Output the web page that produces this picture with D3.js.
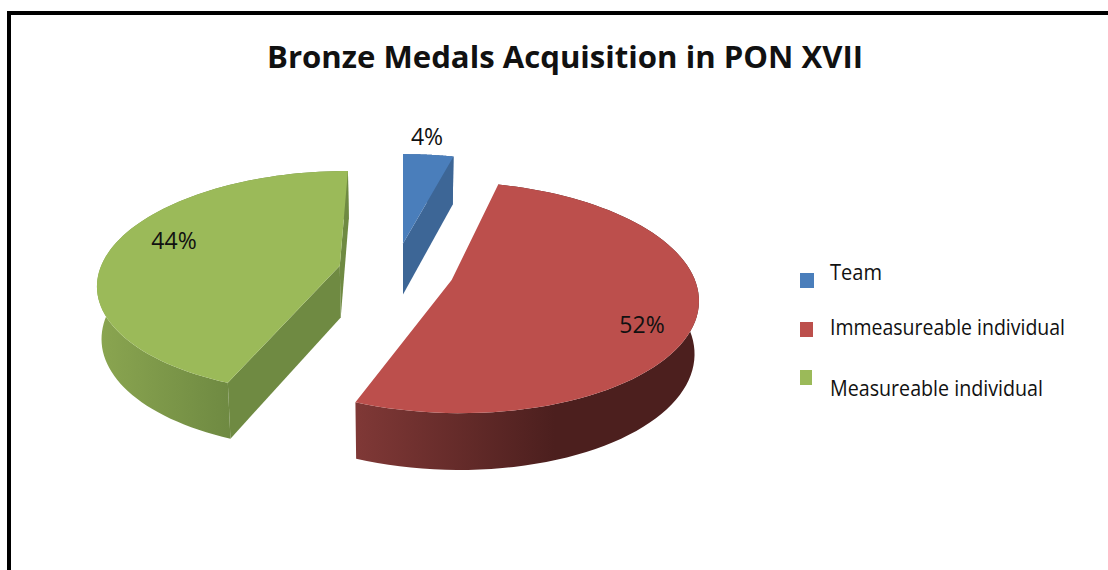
<!DOCTYPE html>
<html>
<head>
<meta charset="utf-8">
<script src="https://cdn.jsdelivr.net/npm/d3@7"></script>
<style>
  html, body { margin: 0; background: #fff; }
  text { font-family: "Open Sans", sans-serif; fill: #111; }
</style>
</head>
<body>
<svg id="chart" width="1108" height="570"></svg>
<script>
// values
const categories = ['Team', 'Immeasureable individual', 'Measureable individual'];
const shares = [4, 52, 44];
const colors = ['#4a7ebb', '#bc4f4c', '#9bba59'];
const sideColors = ['#3d6696', '#7f3836', '#8aa550'];
const sideColorsDark = ['#3d6696', '#4c1f1e', '#6f8a42'];
const title = 'Bronze Medals Acquisition in PON XVII';

// how far each slice is pulled out of the pie, in units of the radius
const explodeU = [0, 0.2, -0.265];
const explodeV = [0.25, -0.09, 0.04];
// label anchors, pixels
const labelX = [427, 642, 174];
const labelY = [139, 327, 243];
// legend rows, pixels
const legendSwatchY = [273, 322, 370];
const legendSwatchW = [14, 13, 12];
const legendTextY = [274, 329, 390];

const svg = d3.select('#chart');

// frame
svg.append('path')
    .attr('d', 'M9,570V13H1108')
    .attr('fill', 'none')
    .attr('stroke', '#000')
    .attr('stroke-width', 4);

svg.append('text')
    .attr('x', 565).attr('y', 60)
    .attr('text-anchor', 'middle')
    .attr('dominant-baseline', 'middle')
    .attr('font-size', 31)
    .attr('font-weight', 700)
    .attr('textLength', 596)
    .attr('lengthAdjust', 'spacingAndGlyphs')
    .text(title);

// fake 3d: the pie lies on a plane seen in perspective
const cx = 403, cy = 270, rx = 240, ry = 110, persp = 0.149, depth = 52;

function project(u, v, bottom) {
    const w = 1 + persp * v;
    const s = bottom ? 0.985 : 1;
    return [
        cx + rx * u / w * s,
        cy - ry * v / w + (bottom ? depth / Math.sqrt(w) : 0)
    ];
}

const arcs = d3.pie().sort(null)(shares);
const line = d3.line();

const defs = svg.append('defs');

arcs.forEach((a, i) => {
    const ou = explodeU[i], ov = explodeV[i];
    const rim = (t, bottom) => project(ou + Math.sin(t), ov + Math.cos(t), bottom);
    const apex = bottom => project(ou, ov, bottom);
    const angles = d3.range(0, 81).map(k => a.startAngle + (a.endAngle - a.startAngle) * k / 80);
    const topRim = angles.map(t => rim(t, false));
    const lowRim = angles.map(t => rim(t, true));

    // outer wall, with vertical shading bands
    const grad = defs.append('linearGradient')
        .attr('id', 'wall' + i)
        .attr('gradientUnits', 'userSpaceOnUse')
        .attr('x1', i === 1 ? 358 : 100).attr('x2', i === 1 ? 555 : 228)
        .attr('y1', 0).attr('y2', 0);
    grad.append('stop').attr('offset', 0).attr('stop-color', sideColors[i]);
    grad.append('stop').attr('offset', 1).attr('stop-color', sideColorsDark[i]);

    const g = svg.append('g');
    g.append('path')
        .attr('d', line(topRim.concat(lowRim.slice().reverse())) + 'Z')
        .attr('fill', 'url(#wall' + i + ')');

    // the two cut faces, only when they turn towards the viewer
    const faces = [
        [apex(false), rim(a.startAngle, false), rim(a.startAngle, true), apex(true)],
        [rim(a.endAngle, false), apex(false), apex(true), rim(a.endAngle, true)]
    ];
    faces.forEach(f => {
        if (d3.polygonArea(f) > 0) {
            g.append('path')
                .attr('d', line(f) + 'Z')
                .attr('fill', sideColorsDark[i]);
        }
    });

    g.append('path')
        .attr('d', line([apex(false)].concat(topRim)) + 'Z')
        .attr('fill', colors[i]);
});

shares.forEach((d, i) => {
    svg.append('text')
        .attr('x', labelX[i]).attr('y', labelY[i])
        .attr('text-anchor', 'middle')
        .attr('dominant-baseline', 'middle')
        .attr('font-size', 23)
        .text(d + '%');
});

categories.forEach((c, i) => {
    svg.append('rect')
        .attr('x', 800).attr('y', legendSwatchY[i])
        .attr('width', legendSwatchW[i]).attr('height', 15)
        .attr('fill', colors[i]);
    svg.append('text')
        .attr('x', 830).attr('y', legendTextY[i])
        .attr('dominant-baseline', 'middle')
        .attr('font-size', 21)
        .attr('textLength', [52, 235, 213][i])
        .attr('lengthAdjust', 'spacingAndGlyphs')
        .text(c);
});
</script>
</body>
</html>
